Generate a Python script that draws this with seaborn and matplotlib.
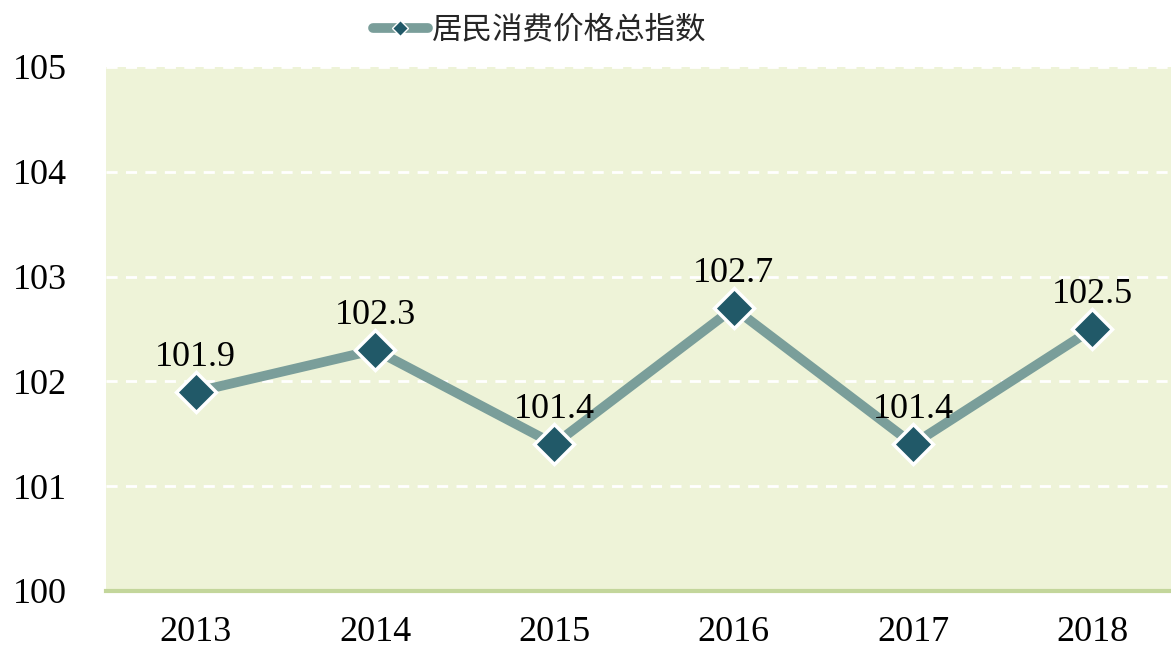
import matplotlib
matplotlib.use('Agg')
import matplotlib.pyplot as plt
import seaborn as sns
import pandas as pd

# data
years = ['2013', '2014', '2015', '2016', '2017', '2018']
cpi = [101.9, 102.3, 101.4, 102.7, 101.4, 102.5]
series_name = '居民消费价格总指数'

df = pd.DataFrame({'year': years, 'cpi': cpi})
df['pos'] = range(len(years))

sns.set_style('white')
plt.rcParams['font.family'] = ['Liberation Serif', 'Noto Sans CJK SC', 'DejaVu Sans']

fig = plt.figure(figsize=(11.71, 6.49), dpi=100)
# plot area runs a little past the right edge, like the original
ax = fig.add_axes([0.0905, 0.0894, 0.919, 0.8074])
ax.set_facecolor('#EEF3D8')

sns.lineplot(data=df, x='pos', y='cpi', ax=ax, color='#7A9E9A', linewidth=7,
             marker='D', markersize=20, markerfacecolor='#215968',
             markeredgecolor='white', markeredgewidth=2.5, label=series_name,
             zorder=3)

# value labels above each point
for i, v in enumerate(cpi):
    ax.annotate(f'{v}', (i, v), xytext=(0, 25), textcoords='offset points',
                ha='center', va='center', fontsize=26, color='black', zorder=4)

ax.set_xlim(-0.5, len(years) - 0.5)
ax.set_ylim(100, 105)
ax.set_xticks(range(len(years)))
ax.set_xticklabels(years)
ax.set_yticks([100, 101, 102, 103, 104, 105])
ax.tick_params(axis='both', length=0, labelsize=26, colors='black')
ax.tick_params(axis='y', pad=28)
ax.tick_params(axis='x', pad=18)
ax.set_xlabel('')
ax.set_ylabel('')

ax.grid(axis='y', color='white', linestyle=(0, (4, 3)), linewidth=2)
ax.grid(axis='x', visible=False)
for s in ['top', 'left', 'right']:
    ax.spines[s].set_visible(False)
ax.spines['bottom'].set_color('#C3D69B')
ax.spines['bottom'].set_linewidth(3)

leg = ax.legend(loc='lower center', bbox_to_anchor=(0.403, 1.0), frameon=False,
                handlelength=1.8, handletextpad=0.15, borderpad=0.2,
                prop={'family': ['Noto Sans CJK SC'], 'size': 22})
for h in leg.get_lines():
    h.set_markersize(8)
    h.set_markeredgewidth(1)

fig.savefig('out.png', dpi=100)
